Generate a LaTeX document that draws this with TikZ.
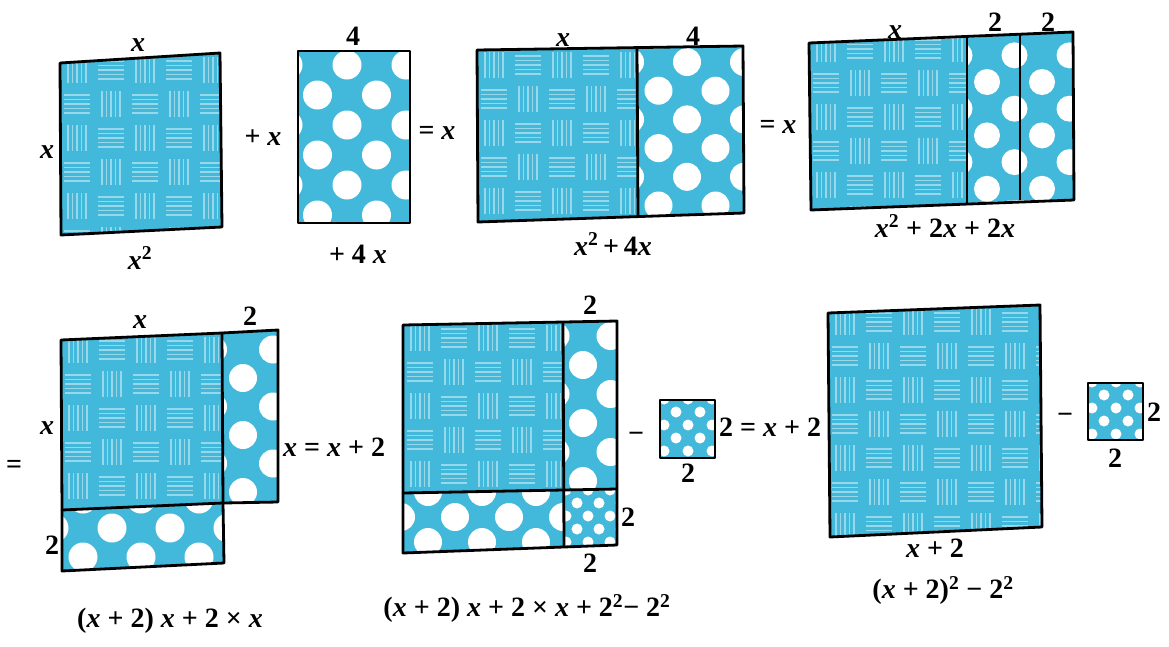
\documentclass[tikz,border=0pt]{standalone}
\usepackage{fontspec}
\setmainfont{Liberation Serif}
\definecolor{tile}{RGB}{66,184,218}
\newcommand{\vx}{\textit{x}}
\newcommand{\sq}{\textsuperscript{2}}
\newcommand{\weave}[2]{%
 \foreach \i in {0,...,7}{\foreach \j in {0,...,7}{%
   \pgfmathtruncatemacro{\pp}{mod(\i+\j,2)}%
   \ifnum\pp=0
     \foreach \k in {0,...,4}{\draw[weaveline] ({#1+34*\i+8+4.5*\k},{#2+34*\j+4}) -- ++(0,26);}%
   \else
     \foreach \k in {0,...,4}{\draw[weaveline] ({#1+34*\i+4},{#2+34*\j+8+4.5*\k}) -- ++(26,0);}%
   \fi}}}
\newcommand{\holes}[5]{%
 \foreach \j in {-1,...,9}{\foreach \i in {-1,...,6}{%
  \pgfmathtruncatemacro{\oo}{mod(\j+10,2)}%
  \fill[white] ({#1+#3*\i+#3/2*\oo},{#2+#4*\j}) circle[radius=#5];}}}
\tikzset{
 edge/.style={draw=black, line width=2.8pt, line join=round},
 lab/.style={inner sep=0pt, font=\fontsize{28}{32}\selectfont\bfseries},
 weaveline/.style={white, opacity=0.45, line width=1.3pt},
}
\begin{document}
\begin{tikzpicture}[x=1pt,y=-1pt]
\fill[white] (0,0) rectangle (1169,646);
\useasboundingbox (0,0) rectangle (1169,646);

% ---------- Box 1: x^2 ----------
\begin{scope}
 \clip (60,63)--(220,53)--(222,227)--(61,235)--cycle;
 \fill[tile] (50,45) rectangle (230,240);
 \weave{60}{53}
\end{scope}
\draw[edge] (60,63)--(220,53)--(222,227)--(61,235)--cycle;

% ---------- Box 2: 4x ----------
\begin{scope}
 \clip (298,51) rectangle (410,223);
 \fill[tile] (298,51) rectangle (410,223);
 \holes{288}{65}{59}{30}{14.5}
\end{scope}
\draw[edge] (298,51) rectangle (410,223);

% ---------- Box 3: x^2+4x ----------
\begin{scope}
 \clip (477,50)--(637,49)--(638,216)--(478,222)--cycle;
 \fill[tile] (470,40) rectangle (645,225);
 \weave{477}{48}
\end{scope}
\begin{scope}
 \clip (637,49)--(743,46)--(744,213)--(638,216)--cycle;
 \fill[tile] (630,40) rectangle (750,225);
 \holes{630}{62}{57}{28.7}{14}
\end{scope}
\draw[edge] (477,50)--(743,46)--(744,213)--(478,222)--cycle;
\draw[edge] (637,49)--(638,216);

% ---------- Box 4: x^2+2x+2x ----------
\begin{scope}
 \clip (809,43)--(967,38)--(967,203)--(811,210)--cycle;
 \fill[tile] (800,30) rectangle (975,215);
 \weave{809}{32}
\end{scope}
\begin{scope}
 \clip (967,38)--(1020,35)--(1020,200)--(967,203)--cycle;
 \fill[tile] (960,30) rectangle (1025,210);
 \holes{932}{82}{55}{26.7}{13}
\end{scope}
\begin{scope}
 \clip (1020,35)--(1073,32)--(1074,200)--(1020,200)--cycle;
 \fill[tile] (1015,25) rectangle (1080,210);
 \holes{932}{82}{55}{26.7}{13}
\end{scope}
\draw[edge] (809,43)--(1073,32)--(1074,200)--(811,210)--cycle;
\draw[edge] (967,38)--(967,203);
\draw[edge] (1020,35)--(1020,200);

% ---------- Box 5 ----------
\begin{scope}
 \clip (61,340)--(222,333)--(223,503)--(62,510)--cycle;
 \fill[tile] (55,325) rectangle (230,515);
 \weave{61}{333}
\end{scope}
\begin{scope}
 \clip (222,333)--(278,330)--(278,502)--(223,503)--cycle;
 \fill[tile] (215,325) rectangle (285,510);
 \holes{183}{378}{60}{28.5}{14}
\end{scope}
\begin{scope}
 \clip (62,510)--(223,503)--(224,563)--(62,571)--cycle;
 \fill[tile] (55,500) rectangle (230,575);
 \holes{54}{528}{58}{29}{14.5}
\end{scope}
\draw[edge] (61,340)--(222,333)--(223,503)--(62,510)--cycle;
\draw[edge] (222,333)--(278,330)--(278,502)--(223,503);
\draw[edge] (62,510)--(62,571)--(224,563)--(223,503);

% ---------- Box 6 ----------
\begin{scope}
 \clip (403,325)--(563,323)--(563,491)--(403,493)--cycle;
 \fill[tile] (395,315) rectangle (570,500);
 \weave{403}{321}
\end{scope}
\begin{scope}
 \clip (563,323)--(617,321)--(617,489)--(563,491)--cycle;
 \fill[tile] (555,315) rectangle (625,495);
 \holes{528}{365}{55}{29}{14}
\end{scope}
\begin{scope}
 \clip (403,493)--(563,491)--(564,547)--(403,553)--cycle;
 \fill[tile] (395,485) rectangle (570,560);
 \holes{401}{517}{54}{25}{14}
\end{scope}
\begin{scope}
 \clip (563,491)--(617,489)--(617,545)--(564,547)--cycle;
 \fill[tile] (555,485) rectangle (625,550);
 \holes{555}{503}{22}{13}{5.5}
\end{scope}
\draw[edge] (403,325)--(617,321)--(617,545)--(403,553)--cycle;
\draw[edge] (563,323)--(564,547);
\draw[edge] (403,493)--(617,489);

% small square of box 6
\begin{scope}
 \clip (660,400) rectangle (715,458);
 \fill[tile] (660,400) rectangle (715,458);
 \holes{652}{412}{24}{13}{5.5}
\end{scope}
\draw[edge] (660,400) rectangle (715,458);

% ---------- Box 7 ----------
\begin{scope}
 \clip (828,313)--(1040,305)--(1042,527)--(830,537)--cycle;
 \fill[tile] (820,300) rectangle (1050,545);
 \weave{828}{305}
\end{scope}
\draw[edge] (828,313)--(1040,305)--(1042,527)--(830,537)--cycle;

\begin{scope}
 \clip (1088,383) rectangle (1143,440);
 \fill[tile] (1088,383) rectangle (1143,440);
 \holes{1080}{395}{24}{13}{5.5}
\end{scope}
\draw[edge] (1088,383) rectangle (1143,440);

% ---------- Labels: top row ----------
\node[lab] (n1) at (138,45) {\vx};
\node[lab] (n2) at (47,152) {\vx};
\node[lab] (n3) at (140,258) {\vx\sq};
\node[lab] (n4) at (263,138) {+ \vx};
\node[lab] (n5) at (353,36) {4};
\node[lab] (n6) at (358,254) {+ 4 \vx};
\node[lab] (n7) at (437,133) {= \vx};
\node[lab] (n8) at (563,40) {\vx};
\node[lab] (n9) at (693,36) {4};
\node[lab] (n10) at (613,244) {\vx\sq\,+\,4\vx};
\node[lab] (n11) at (778,127) {= \vx};
\node[lab] (n12) at (895,32) {\vx};
\node[lab] (n13) at (995,22) {2};
\node[lab] (n14) at (1048,22) {2};
\node[lab] (n15) at (945,226) {\vx\sq{} + 2\vx{} + 2\vx};

% ---------- Labels: bottom row ----------
\node[lab] (m1) at (14,467) {=};
\node[lab] (m2) at (140,322) {\vx};
\node[lab] (m3) at (250,316) {2};
\node[lab] (m4) at (47,428) {\vx};
\node[lab] (m5) at (52,545) {2};
\node[lab, anchor=west] (m6) at (283,447) {\vx{} = \vx{} + 2};
\node[lab] (m7) at (170,621) {(\vx{} + 2) \vx{} + 2 × \vx};
\node[lab] (m8) at (590,305) {2};
\node[lab] (m9) at (636,437) {−};
\node[lab, anchor=west] (m10) at (621,517) {2};
\node[lab] (m11) at (590,563) {2};
\node[lab] (m12) at (688,473) {2};
\node[lab, anchor=west] (m13) at (719,427) {2 = \vx{} + 2};
\node[lab] (m14) at (527,608) {(\vx{} + 2) \vx{} + 2 × \vx{} + 2\sq{}− 2\sq};
\node[lab] (m15) at (1065,418) {−};
\node[lab, anchor=west] (m16) at (1147,412) {2};
\node[lab] (m17) at (1115,458) {2};
\node[lab] (m18) at (935,548) {\vx{} + 2};
\node[lab] (m19) at (943,590) {(\vx{} + 2)\sq{} − 2\sq};
\end{tikzpicture}
\end{document}
